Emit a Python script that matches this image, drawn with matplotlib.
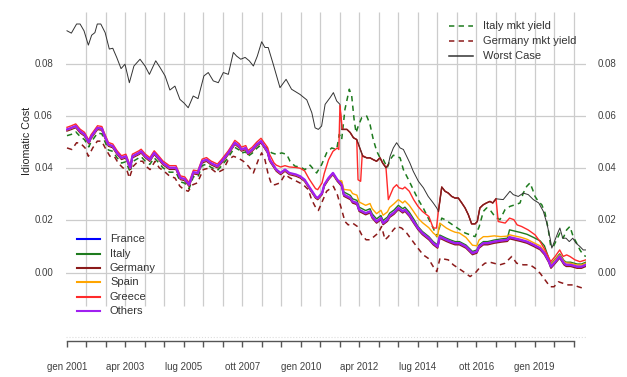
import matplotlib
matplotlib.use('Agg')
import matplotlib.pyplot as plt
import numpy as np
from matplotlib.lines import Line2D

plt.rcParams['font.family'] = ['Liberation Sans', 'DejaVu Sans']

# months since gen 2001
months_bundle = [0, 2, 4, 6, 8, 10, 11, 14, 16, 17,
                 19, 21, 23, 25, 27, 29, 30, 33, 34, 36,
                 38, 40, 42, 44, 47, 50, 52, 54, 56, 58,
                 60, 62, 64, 66, 69, 71, 74, 76, 77, 79,
                 80, 82, 83, 85, 87, 89, 90, 92, 93, 95,
                 96, 98, 100, 102, 105, 107, 109, 111, 114, 115,
                 117, 118, 120, 122, 124, 126, 127, 130, 131, 133,
                 134, 137, 139, 140, 142, 144, 145, 147, 148, 150,
                 152, 154, 155, 157, 159, 161, 163, 166, 168, 170,
                 171, 174, 176, 178, 180, 183, 186, 188, 189, 191,
                 193, 196, 199, 202, 203, 205, 208, 211, 214, 217,
                 219, 221, 222, 224, 226, 228, 229, 231, 234, 236,
                 238]

others = [.0549, .0555, .0562, .0542, .0530, .0500, .0520, .0555, .0552, .0530,
          .0491, .0485, .0459, .0440, .0446, .0402, .0446, .0459, .0465, .0446,
          .0433, .0459, .0440, .0420, .0402, .0402, .0363, .0359, .0337, .0385,
          .0382, .0427, .0433, .0420, .0408, .0427, .0459, .0485, .0498, .0485,
          .0472, .0478, .0459, .0472, .0491, .0504, .0491, .0465, .0433, .0408,
          .0395, .0382, .0395, .0382, .0376, .0369, .0356, .0330, .0292, .0286,
          .0305, .0337, .0363, .0382, .0356, .0337, .0299, .0286, .0273, .0267,
          .0241, .0228, .0235, .0215, .0196, .0209, .0190, .0203, .0218, .0230,
          .0248, .0235, .0241, .0222, .0196, .0171, .0152, .0132, .0113, .0100,
          .0138, .0126, .0119, .0113, .0113, .0100, .0075, .0081, .0100, .0113,
          .0113, .0119, .0123, .0126, .0136, .0132, .0126, .0119, .0107, .0094,
          .0075, .0045, .0023, .0042, .0062, .0036, .0030, .0030, .0023, .0023,
          .0030]

france = [.0548, .0554, .0561, .0541, .0529, .0499, .0519, .0554, .0551, .0529,
          .0490, .0484, .0458, .0439, .0445, .0401, .0445, .0458, .0464, .0445,
          .0432, .0458, .0439, .0419, .0401, .0401, .0362, .0358, .0336, .0384,
          .0381, .0426, .0432, .0419, .0407, .0426, .0458, .0484, .0497, .0484,
          .0471, .0477, .0458, .0471, .0490, .0503, .0490, .0464, .0432, .0407,
          .0394, .0381, .0394, .0381, .0375, .0368, .0355, .0329, .0291, .0285,
          .0304, .0336, .0362, .0381, .0355, .0336, .0298, .0285, .0272, .0266,
          .0240, .0227, .0234, .0214, .0195, .0208, .0189, .0202, .0217, .0229,
          .0247, .0234, .0240, .0221, .0195, .0170, .0151, .0131, .0112, .0099,
          .0137, .0125, .0118, .0112, .0112, .0099, .0074, .0080, .0099, .0112,
          .0112, .0118, .0122, .0125, .0135, .0131, .0125, .0118, .0106, .0093,
          .0074, .0044, .0022, .0041, .0061, .0035, .0029, .0029, .0022, .0022,
          .0029]

italy = [.0546, .0552, .0559, .0539, .0527, .0497, .0517, .0552, .0549, .0527,
         .0488, .0482, .0456, .0437, .0443, .0399, .0443, .0456, .0462, .0443,
         .0430, .0456, .0437, .0417, .0399, .0399, .0360, .0356, .0334, .0382,
         .0379, .0424, .0430, .0417, .0405, .0424, .0456, .0482, .0495, .0482,
         .0469, .0475, .0456, .0469, .0488, .0501, .0488, .0462, .0430, .0405,
         .0392, .0379, .0392, .0379, .0373, .0366, .0353, .0327, .0289, .0283,
         .0302, .0334, .0360, .0379, .0353, .0347, .0309, .0296, .0283, .0277,
         .0251, .0238, .0245, .0225, .0206, .0219, .0200, .0213, .0228, .0240,
         .0258, .0245, .0251, .0232, .0206, .0177, .0158, .0138, .0119, .0106,
         .0144, .0132, .0125, .0119, .0119, .0106, .0081, .0087, .0106, .0119,
         .0119, .0125, .0129, .0132, .0164, .0160, .0154, .0147, .0135, .0122,
         .0103, .0055, .0033, .0052, .0072, .0046, .0040, .0040, .0033, .0033,
         .0040]

germany = [.0543, .0549, .0556, .0536, .0524, .0494, .0514, .0549, .0546, .0524,
           .0485, .0479, .0453, .0434, .0440, .0396, .0440, .0453, .0459, .0440,
           .0427, .0453, .0434, .0414, .0396, .0396, .0357, .0353, .0331, .0379,
           .0376, .0421, .0427, .0414, .0402, .0421, .0453, .0479, .0492, .0479,
           .0466, .0472, .0453, .0466, .0485, .0498, .0485, .0459, .0427, .0402,
           .0389, .0376, .0389, .0376, .0370, .0363, .0350, .0324, .0286, .0280,
           .0299, .0331, .0357, .0376, .0350, .0331, .0293, .0280, .0267, .0261,
           .0235, .0222, .0229, .0209, .0190, .0203, .0184, .0197, .0212, .0224,
           .0242, .0229, .0235, .0216, .0190, .0165, .0146, .0126, .0107, .0094,
           .0132, .0120, .0113, .0107, .0107, .0094, .0069, .0075, .0094, .0107,
           .0107, .0113, .0117, .0120, .0130, .0126, .0120, .0113, .0101, .0088,
           .0069, .0039, .0017, .0036, .0056, .0030, .0024, .0024, .0017, .0017,
           .0024]

spain = [.0547, .0553, .0560, .0540, .0528, .0498, .0518, .0553, .0550, .0528,
         .0489, .0483, .0457, .0438, .0444, .0400, .0444, .0457, .0463, .0444,
         .0431, .0457, .0438, .0418, .0400, .0400, .0361, .0357, .0335, .0383,
         .0380, .0425, .0431, .0418, .0406, .0425, .0457, .0483, .0496, .0483,
         .0470, .0476, .0457, .0470, .0489, .0502, .0489, .0463, .0431, .0406,
         .0393, .0380, .0393, .0380, .0374, .0367, .0354, .0328, .0290, .0284,
         .0303, .0335, .0361, .0380, .0354, .0352, .0319, .0316, .0303, .0297,
         .0271, .0258, .0265, .0245, .0226, .0239, .0220, .0233, .0250, .0264,
         .0280, .0267, .0275, .0258, .0234, .0209, .0192, .0172, .0152, .0138,
         .0190, .0171, .0162, .0155, .0152, .0135, .0105, .0103, .0125, .0138,
         .0138, .0141, .0138, .0140, .0145, .0141, .0136, .0128, .0115, .0103,
         .0082, .0050, .0030, .0050, .0068, .0043, .0037, .0036, .0029, .0029,
         .0036]

greece_months = [0, 2, 4, 6, 8, 10, 11, 14, 16, 17, 19, 21, 23, 25, 27, 29, 30, 33, 34, 36,
                 38, 40, 42, 44, 47, 50, 52, 54, 56, 58, 60, 62, 64, 66, 69, 71, 74, 76, 77, 79,
                 80, 82, 83, 85, 87, 89, 90, 92, 93, 95, 96, 98, 100, 102, 105, 107, 109, 111,
                 114, 115, 117, 118, 120, 122, 124, 124.7, 125.2, 126.3, 128.4, 129.9, 131.4,
                 132.9, 133.5, 134.7, 135.4, 137.5, 139, 140.5, 142, 143.6, 144.8, 146.3, 147.4,
                 149.7, 151.2, 152.3, 154, 155, 157, 159, 161, 163, 166, 168, 169.5, 170.4, 171.9,
                 173.4, 174.9, 176.5, 178, 179.5, 181.1, 182.6, 184.1, 185.6, 187.2, 188.2, 189.4,
                 190.9, 192.4, 194, 195.3, 196.8, 197.8, 201, 203, 205, 206.5, 208.5, 211.5,
                 214.7, 217, 219.3, 221.9, 223.9, 226, 227.6, 229.2, 230.7, 233, 235.3, 238]
greece = [.0557, .0563, .0570, .0550, .0538, .0508, .0528, .0563, .0560, .0538,
          .0499, .0493, .0467, .0448, .0454, .0410, .0454, .0467, .0473, .0454,
          .0441, .0467, .0448, .0428, .0410, .0410, .0371, .0367, .0345, .0393,
          .0390, .0435, .0441, .0428, .0416, .0435, .0467, .0493, .0507, .0494,
          .0481, .0487, .0468, .0481, .0500, .0515, .0503, .0480, .0452, .0420,
          .0412, .0405, .0410, .0405, .0403, .0400, .0390, .0360, .0322, .0318,
          .0344, .0380, .0433, .0465, .0478,
          .0472, .0640, .0549, .0549, .0537, .0517, .0510, .0356, .0350, .0450,
          .0440, .0440, .0433, .0427, .0440, .0420, .0405, .0280, .0325, .0337,
          .0325, .0321, .0328, .0312, .0280, .0254, .0235, .0215, .0171, .0171,
          .0240, .0328, .0312, .0305, .0292, .0286, .0286, .0267, .0248, .0222,
          .0187, .0187, .0196, .0248, .0260, .0267, .0273, .0267, .0283, .0196,
          .0190, .0209, .0203, .0183, .0177, .0164, .0145, .0119, .0087, .0042,
          .0062, .0087, .0062, .0068, .0062, .0049, .0042, .0049]

itmkt_months = [0, 2, 4, 6, 8, 10, 11, 14, 16, 17, 19, 21, 23, 25, 27, 29, 30, 33, 34, 36,
                38, 40, 42, 44, 47, 50, 52, 54, 56, 58, 60, 62, 64, 66, 69, 71, 74, 76, 77, 79,
                80, 82, 83, 85, 87, 89, 91.6, 93.9, 96.2, 98.5, 100.8, 102.3, 104.6, 106.9,
                109.2, 111.5, 114.5, 116.8, 119.1, 121.4, 123.7, 124.9, 126, 127.5, 129.5,
                130.6, 131.7, 132.6, 133.6, 135.2, 137.5, 139, 140.5, 142.1, 143.6, 145.1,
                146.9, 148.2, 149.7, 151.2, 152.8, 154.3, 156.6, 158.9, 161.1, 163.4, 165.7,
                168, 169.6, 170.8, 171.9, 173.4, 175.7, 178, 180.3, 182.6, 184.9, 187.2, 189.1,
                191, 192.5, 194, 196.3, 198.6, 200.9, 203.2, 205.5, 207.8, 209.3, 210.9, 212.4,
                213.6, 214.7, 216.2, 217.8, 219.3, 220.8, 221.9, 223.1, 224.6, 226.1, 227.6,
                229.2, 230.7, 232.2, 233.8, 235.3, 236.8, 238]
itmkt = [.0525, .0530, .0540, .0522, .0510, .0482, .0500, .0535, .0532, .0510,
         .0470, .0465, .0440, .0420, .0425, .0385, .0425, .0440, .0445, .0426,
         .0415, .0440, .0422, .0402, .0385, .0385, .0348, .0343, .0322, .0368,
         .0365, .0410, .0416, .0404, .0392, .0410, .0442, .0468, .0480, .0470,
         .0458, .0463, .0446, .0458, .0476, .0490,
         .0478, .0459, .0453, .0459, .0453, .0427, .0408, .0405, .0395, .0412,
         .0382, .0414, .0459, .0478, .0472, .0530, .0510, .0626, .0703, .0677,
         .0587, .0536, .0562, .0594, .0600, .0568, .0510, .0465, .0440, .0433,
         .0402, .0433, .0450, .0446, .0440, .0395, .0357, .0318, .0280, .0248,
         .0209, .0171, .0138, .0171, .0209, .0203, .0190, .0177, .0164, .0152,
         .0145, .0138, .0177, .0235, .0248, .0241, .0215, .0203, .0241, .0254,
         .0260, .0267, .0305, .0331, .0344, .0318, .0292, .0273, .0260, .0228,
         .0164, .0100, .0100, .0126, .0152, .0132, .0164, .0177, .0138, .0113,
         .0087, .0068, .0062]

demkt_months = [0, 2.2, 4.4, 6.3, 8.3, 9.8, 11.8, 13.9, 15.9, 17.9, 19.7, 21.7, 23.5, 25.6,
                27.4, 28.6, 30.4, 32.7, 34.7, 36.2, 38.1, 40.4, 42.3, 44.5, 47.2, 49.5, 51.8,
                53.7, 55.6, 57.7, 59.8, 62.5, 65.6, 68.7, 71.7, 74, 76.3, 78.4, 80.9, 83.2,
                85.5, 87.8, 89.3, 90.8, 92.3, 93.9, 95.4, 97.7, 100, 102.3, 105.4, 108.4,
                110.7, 112.2, 113.8, 115.3, 116.8, 119.1, 122.2, 124, 126, 127.5, 129, 131,
                133.2, 135.2, 137.2, 139, 140.8, 142.8, 144.3, 145.9, 147.4, 149.7, 151.2,
                153.5, 155.8, 158.1, 160.4, 163.4, 165.7, 168, 169.6, 171.1, 174.9, 177.2,
                179.5, 181.8, 184.9, 187.2, 189.4, 191.7, 194, 198.6, 200.9, 204, 206.3,
                209.3, 212.4, 214.7, 217, 219.3, 221.6, 223.4, 225.4, 227.6, 229.9, 232.2,
                234.5, 236.8]
demkt = [.0478, .0472, .0498, .0495, .0478, .0446, .0478, .0504, .0504, .0472,
         .0446, .0446, .0420, .0402, .0395, .0363, .0408, .0427, .0427, .0408,
         .0395, .0427, .0402, .0389, .0369, .0363, .0331, .0318, .0312, .0337,
         .0344, .0395, .0402, .0382, .0395, .0433, .0446, .0440, .0427, .0408,
         .0382, .0433, .0459, .0433, .0376, .0337, .0337, .0344, .0376, .0363,
         .0350, .0337, .0318, .0280, .0254, .0238, .0267, .0312, .0331, .0299,
         .0241, .0196, .0183, .0190, .0177, .0145, .0126, .0126, .0138, .0152,
         .0177, .0126, .0138, .0164, .0177, .0171, .0152, .0126, .0100, .0068,
         .0055, .0023, .0004, .0055, .0049, .0030, .0017, .0004, -.0015, -.0002,
         .0020, .0036, .0040, .0030, .0036, .0062, .0036, .0030, .0030, .0017,
         -.0002, -.0028, -.0054, -.0054, -.0035, -.0041, -.0047, -.0047, -.0054, -.0060]

worst_months = [0, 2, 4.4, 6, 7.8, 9.8, 11.3, 12.8, 13.9, 15.5, 17.5, 19.4, 21, 22.8, 24.8,
                26.6, 28.6, 30.7, 33.5, 35.8, 37.8, 40.7, 42.7, 45, 47.2, 49.5, 51.8, 53.7,
                55.6, 57.9, 60.1, 62.8, 64.8, 67.1, 69.4, 71.7, 74, 76.3, 77.8, 79.7, 81.7,
                83.6, 85.5, 87.3, 89.3, 90.8, 92.3, 94.6, 97.7, 100.5, 103, 106.9, 110, 112.3,
                113.8, 115.3, 116.8, 118.4, 120.7, 122.2, 123.7, 125.2, 126.1, 128.4, 129.9,
                131.4, 132.9, 135.7, 137.5, 139, 140.5, 142, 143.6, 144.8, 146.3, 147.4, 148.2,
                149.7, 151.2, 152.8, 154.3, 155.8, 157.3, 158.8, 161.2, 163.5, 165.7, 168,
                169.6, 170.4, 171.9, 173.4, 174.9, 176.5, 178, 179.5, 181.1, 182.6, 184.1,
                185.6, 187.2, 188.2, 189.4, 190.9, 192.4, 194, 195.3, 196.8, 200.1, 203.2,
                204.7, 207, 209.3, 211.6, 213.9, 216.4, 218.5, 220.1, 221.6, 222.4, 223.9,
                225.4, 226.1, 227.4, 228.9, 230.4, 232, 233.5, 235.3, 236.8, 238]
worst = [.0927, .0918, .0953, .0953, .0927, .0872, .0910, .0920, .0953, .0953,
         .0920, .0857, .0860, .0825, .0782, .0799, .0728, .0792, .0818, .0792,
         .0760, .0812, .0786, .0754, .0700, .0715, .0664, .0650, .0632, .0677,
         .0667, .0754, .0767, .0735, .0728, .0767, .0760, .0844, .0830, .0818,
         .0825, .0812, .0792, .0830, .0885, .0863, .0863, .0799, .0709, .0741,
         .0703, .0683, .0662, .0613, .0555, .0549, .0562, .0645, .0671, .0690,
         .0658, .0645, .0549, .0549, .0537, .0517, .0510, .0446, .0440, .0440,
         .0433, .0427, .0440, .0420, .0402, .0414, .0446, .0478, .0498, .0478,
         .0472, .0446, .0420, .0389, .0350, .0325, .0292, .0267, .0248, .0235,
         .0328, .0312, .0305, .0292, .0286, .0286, .0267, .0248, .0222, .0187,
         .0187, .0196, .0248, .0260, .0267, .0273, .0267, .0283, .0280, .0312,
         .0299, .0292, .0305, .0299, .0280, .0267, .0235, .0190, .0132, .0094,
         .0126, .0158, .0171, .0132, .0132, .0119, .0132, .0113, .0100, .0087,
         .0087]
# stretches where the worst case is drawn in dark red
worst_dark = [(126.0, 147.5), (170.3, 196.9)]

tick_labels = ['gen 2001', 'apr 2003', 'lug 2005', 'ott 2007', 'gen 2010',
               'apr 2012', 'lug 2014', 'ott 2016', 'gen 2019']
y_ticks = [0.00, 0.02, 0.04, 0.06, 0.08]

BLUE, GREEN, DRED = '#0000FF', '#1E7B1E', '#8B1A1A'
ORANGE, RED, PURPLE, BLACK = '#FFA500', '#FF2A2A', '#A020F0', '#333333'
TXT = '#404040'
DASH = (0, (3.5, 2.8))
W, H = 627, 377
MSCALE = 2.18 / 2.165  # read-off months -> calendar months


def mo(m):
    return np.asarray(m, dtype=float) * MSCALE


fig = plt.figure(figsize=(W / 100, H / 100), dpi=100)
ax = fig.add_axes([66 / W, 1 - 341 / H, 520 / W, 329 / H])
ax.set_xlim(-1 / 2.165, 519 / 2.165)
ax.set_ylim(-0.0262, 0.0999)
ax.axis('off')

grid_c = '#cccccc'
for yv in y_ticks:
    ax.axhline(yv, color=grid_c, lw=0.9, zorder=0)
tick_m = np.arange(0, 235, 9)
ax.vlines(tick_m[1:], -0.0128, 0.0999, color=grid_c, lw=0.9, zorder=0)
ax.axhline(-0.0246, color='#dddddd', lw=0.8, ls=':', zorder=0)

# x axis below the panel
ybot = -0.0262
ax.plot([0, tick_m[-1]], [ybot, ybot], color='#555555', lw=1.0, clip_on=False)
tk = ax.vlines(tick_m, ybot - 0.0023, ybot, color='#555555', lw=1.0)
tk.set_clip_on(False)
for i, lab in enumerate(tick_labels):
    ax.text(27 * i, -0.0361, lab, ha='center', va='center', fontsize=7, color=TXT)

ytr = ax.get_yaxis_transform()
for yv in y_ticks:
    ax.text(-0.025, yv, f'{yv:.2f}', transform=ytr, ha='right', va='center',
            fontsize=7, color=TXT)
    ax.text(1.023, yv, f'{yv:.2f}', transform=ytr, ha='left', va='center',
            fontsize=7, color=TXT)
fig.text(27 / W, 1 - 141 / H, 'Idiomatic Cost', rotation=90, ha='center',
         va='center', fontsize=7.7, color='#222222')

# series
ax.plot(mo(itmkt_months), itmkt, color=GREEN, lw=1.1, ls=DASH, zorder=2)
ax.plot(mo(demkt_months), demkt, color=DRED, lw=1.1, ls=DASH, zorder=2)
ax.plot(mo(worst_months), worst, color=BLACK, lw=0.7, zorder=3)
mb = mo(months_bundle)
ax.plot(mb, france, color=BLUE, lw=1.1, zorder=4)
ax.plot(mb, italy, color=GREEN, lw=1.0, zorder=4)
ax.plot(mb, germany, color=DRED, lw=1.1, zorder=4)
ax.plot(mb, spain, color=ORANGE, lw=1.0, zorder=4)
ax.plot(mo(greece_months), greece, color=RED, lw=1.0, zorder=4)
ax.plot(mb, others, color=PURPLE, lw=1.7, zorder=5)
wm = np.asarray(worst_months)
wv = np.asarray(worst)
for a, b in worst_dark:
    sel = (wm >= a) & (wm <= b)
    ax.plot(mo(wm[sel]), wv[sel], color='#7A1F1F', lw=1.0, zorder=6)


def px(x, y):
    return x / W, 1 - y / H


def legend_row(x0, x1, xt, y, label, **kw):
    (a, b), (c, _) = px(x0, y), px(x1, y)
    fig.add_artist(Line2D([a, c], [b, b], transform=fig.transFigure, **kw))
    tx, ty = px(xt, y)
    fig.text(tx, ty, label, ha='left', va='center', fontsize=8, color='#333333')


legend_row(449, 473, 483, 26, 'Italy mkt yield', color=GREEN, lw=1.1, ls=DASH)
legend_row(449, 473, 483, 41, 'Germany mkt yield', color=DRED, lw=1.1, ls=DASH)
legend_row(449, 473, 483, 56, 'Worst Case', color=BLACK, lw=1.1)

for i, (lab, col) in enumerate([('France', BLUE), ('Italy', GREEN), ('Germany', DRED),
                                 ('Spain', ORANGE), ('Greece', RED), ('Others', PURPLE)]):
    legend_row(77, 100, 110, 239.3 + 14.3 * i, lab, color=col, lw=1.5)

fig.savefig('out.png', dpi=100)
plt.close(fig)
